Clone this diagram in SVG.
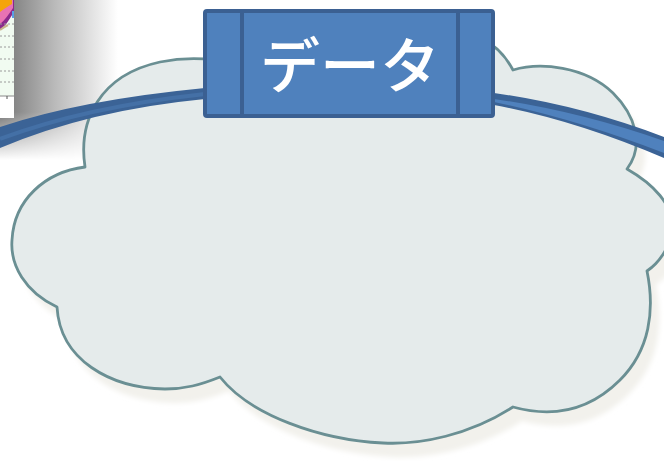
<svg xmlns="http://www.w3.org/2000/svg" width="664" height="461" viewBox="0 0 664 461">
  <style>
    .cloud { fill: #e5ebeb; stroke: #6a8f93; stroke-width: 2.8; stroke-linejoin: round; }
    .cloud-shadow { fill: #f2f1ec; }
    .ribbon-dark { fill: #3b6396; }
    .ribbon-light { fill: #4f81bd; }
    .box { fill: #4f81bd; stroke: #3b6092; stroke-width: 4; }
    .divider { stroke: #3b6092; stroke-width: 4; }
    .label { font-family: "Noto Sans CJK JP", "Noto Sans", sans-serif; font-size: 60px; font-weight: 500; fill: #ffffff; }
    .grid { stroke: #9a9a9a; stroke-width: 1; stroke-dasharray: 2 2; }
  </style>
  <defs>
    <linearGradient id="shadowH" x1="0" y1="0" x2="1" y2="0">
      <stop offset="0" stop-color="#747474"/>
      <stop offset="0.45" stop-color="#b8b8b8"/>
      <stop offset="1" stop-color="#ffffff"/>
    </linearGradient>
    <linearGradient id="fadeV" x1="0" y1="0" x2="0" y2="1">
      <stop offset="0" stop-color="#ffffff"/>
      <stop offset="0.7" stop-color="#ffffff"/>
      <stop offset="1" stop-color="#000000"/>
    </linearGradient>
    <mask id="shadowMask">
      <rect x="0" y="0" width="120" height="160" fill="url(#fadeV)"/>
    </mask>
    <filter id="blur" x="-5%" y="-5%" width="110%" height="110%">
      <feGaussianBlur stdDeviation="2.5"/>
    </filter>
    <path id="cloudPath" d="M57,307 C25,292 10,265 12,240 C14,200 45,172 85,167 C78,120 100,75 160,62 C180,58 200,58 215,60 C300,20 420,20 483,40 C495,45 505,55 513,70 C540,62 585,66 613,93 C635,115 645,145 627,169 C655,185 672,205 672,225 C672,245 660,262 647,271 C655,310 650,350 620,380 C595,405 560,420 513,407 C470,435 420,445 383,443 C320,440 250,415 220,377 C200,385 185,389 165,389 C110,388 60,360 57,307 Z"/>
  </defs>

  <rect width="664" height="461" fill="#ffffff"/>

  <g id="screenshot">
    <rect x="0" y="0" width="118" height="160" fill="url(#shadowH)" mask="url(#shadowMask)"/>
    <rect x="0" y="0" width="14" height="118" fill="#ffffff"/>
    <rect x="0" y="0" width="14" height="96" fill="#f1fbf1"/>
    <path d="M0,0 H14 V12 C10,18 6,26 0,30 Z" fill="#8a2a8c"/>
    <path d="M0,0 H13 V8 C9,14 5,20 0,24 Z" fill="#e873b3"/>
    <path d="M0,0 H12 V4 C8,6 4,9 0,12 Z" fill="#f5a40c"/>
    <rect x="12" y="11" width="2" height="7" fill="#5aa0e6"/>
    <path d="M0,30 C4,27 6,26 8,25" stroke="#c8b48c" stroke-width="2" fill="none"/>
    <line class="grid" x1="0" y1="24" x2="14" y2="24"/>
    <line class="grid" x1="0" y1="36" x2="14" y2="36"/>
    <line class="grid" x1="0" y1="47" x2="14" y2="47"/>
    <line class="grid" x1="0" y1="59" x2="14" y2="59"/>
    <line class="grid" x1="0" y1="71" x2="14" y2="71"/>
    <line class="grid" x1="0" y1="82" x2="14" y2="82"/>
    <line x1="0" y1="96" x2="14" y2="96" stroke="#8a8a8a" stroke-width="1"/>
    <line x1="7" y1="96" x2="7" y2="99" stroke="#555" stroke-width="1"/>
  </g>

  <g id="cloud">
    <use href="#cloudPath" class="cloud-shadow" transform="translate(9,14)" filter="url(#blur)"/>
    <use href="#cloudPath" class="cloud"/>
  </g>

  <g id="connectors">
    <path class="ribbon-dark" d="M0,127 Q80,100 205,88 L205,99 Q90,110 0,148 Z"/>
    <path d="M0,139 Q85,107 205,94" fill="none" stroke="#4470a6" stroke-width="4"/>
    <path class="ribbon-dark" d="M494,93 Q580,105 664,137 L664,158 Q575,120 494,105 Z"/>
    <path class="ribbon-light" d="M494,99 Q578,111 664,141 L664,153 Q576,119 494,102 Z"/>
  </g>

  <g id="data-box">
    <rect class="box" x="205" y="11" width="288" height="105" rx="2"/>
    <line class="divider" x1="242" y1="11" x2="242" y2="116"/>
    <line class="divider" x1="458" y1="11" x2="458" y2="116"/>
    <text class="label" x="350" y="88" text-anchor="middle">データ</text>
  </g>
</svg>
